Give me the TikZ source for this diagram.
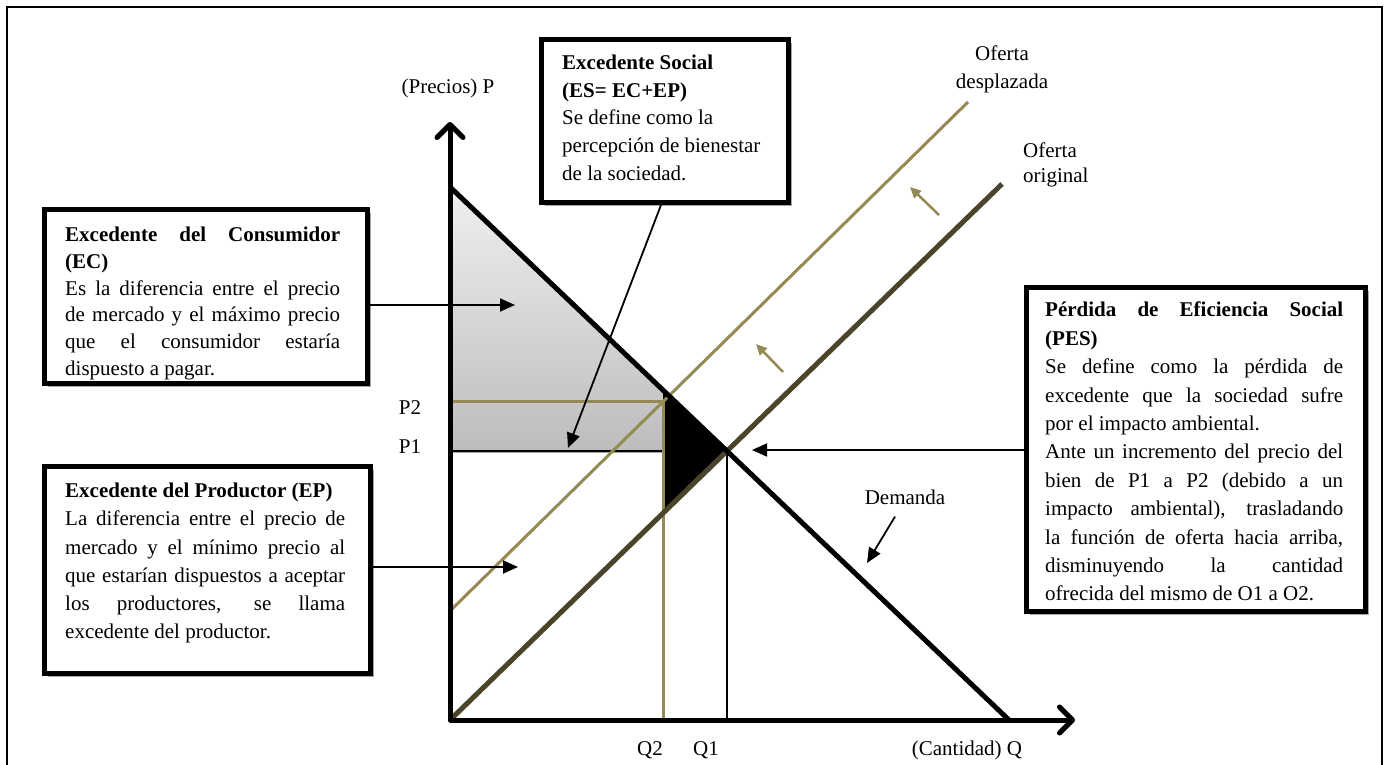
\documentclass[tikz,border=0pt]{standalone}
\usepackage{fontspec}
\setmainfont{Liberation Serif}
\usetikzlibrary{arrows.meta,intersections,shadows}
\setlength{\parindent}{0pt}
\tolerance=10000 \hbadness=10000 \hyphenpenalty=10000 \exhyphenpenalty=10000
\definecolor{olive}{HTML}{948A54}
\definecolor{darkolive}{HTML}{4A452A}

\begin{document}
\begin{tikzpicture}[x=1pt,y=-1pt,
  font=\fontsize{21}{28}\selectfont,
  panel/.style={draw=black, line width=5pt, fill=white, anchor=north west, inner sep=0pt,
    general shadow={shadow xshift=3.8pt, shadow yshift=-3.8pt, fill=black!35}},
  body/.style={anchor=north west, inner sep=0pt, text width=#1, align=justify},
  conn/.style={line width=1.8pt, -{Triangle[length=15pt,width=13pt]}},
  shiftarrow/.style={draw=olive, line width=2.5pt, -{Triangle[length=11pt,width=10pt]}},
  sh/.style={preaction={draw=black!35, transform canvas={shift={(1.5pt,-1.5pt)}}}},
  lbl/.style={inner sep=0pt}
]
\useasboundingbox (0,0) rectangle (1386,765);
% frame
\draw[line width=1.5pt] (7,7) rectangle (1382,800);

% key points of the diagram
\coordinate (O) at (450,720);
\coordinate (Ytip) at (450,122);
\coordinate (Xtip) at (1075,720);
\coordinate (Dtop) at (450,187);
\coordinate (Dbot) at (1009,720);
\coordinate (Sbot) at (450,720);
\coordinate (Stop) at (1002,184);
\coordinate (Tbot) at (451,610);
\coordinate (Ttop) at (968,102);
\coordinate (P2L) at (450,401);
\coordinate (Q2T) at (663,401);
\coordinate (Q2B) at (663,720);

\path[name path=dem] (Dtop) -- (Dbot);
\path[name path=sup] (Sbot) -- (Stop);
\path[name path=qtwo] (663,100) -- (663,730);
\path[name intersections={of=dem and sup, by=E}];
\path[name intersections={of=dem and qtwo, by=Dq}];
\path[name intersections={of=sup and qtwo, by=Sq}];

% consumer surplus area
\shade[top color=black!6, bottom color=black!26] (Dtop) -- (Dq) -- (Dq |- E) -- (Dtop |- E) -- cycle;
% welfare loss
\fill[black] (Dq) -- (E) -- (Sq) -- cycle;

% price and quantity guides
\draw[line width=2.5pt, sh] (Dtop |- E) -- (Dq |- E);
\draw[line width=1.5pt] (E) -- (E |- O);
\draw[olive, line width=3pt] (P2L) -- (Q2T) -- (Q2B);

% supply curves and demand
\draw[olive, line width=3pt] (Tbot) -- (Ttop);
\draw[darkolive, line width=5pt, sh] (Sbot) -- (Stop);
\draw[black, line width=5pt, sh] (Dtop) -- (Dbot);

% axes
\draw[line width=5pt, line join=round, sh,
  {Straight Barb[length=13pt,width=26pt,round]}-{Straight Barb[length=13pt,width=26pt,round]}]
  (Ytip) -- (O) -- (Xtip);

% shift of the supply curve
\coordinate (a1s) at (783,372); \coordinate (a1e) at (756,344);
\coordinate (a2s) at (939,215); \coordinate (a2e) at (910,187);
\draw[shiftarrow] (a1s) -- (a1e);
\draw[shiftarrow] (a2s) -- (a2e);

% axis and curve labels
\node[lbl] (pl) at (448,88) {(Precios) P};
\node[lbl, align=center] (od) at (1002,69) {Oferta\\desplazada};
\node[lbl, align=left, anchor=west, font=\fontsize{21}{25}\selectfont] (oo) at (1023,165) {Oferta\\original};
\node[lbl] (p2) at (410,408) {P2};
\node[lbl] (p1) at (410,447) {P1};
\node[lbl] (q2) at (650,750) {Q2};
\node[lbl] (q1) at (706,750) {Q1};
\node[lbl] (cq) at (967,750) {(Cantidad) Q};
\node[lbl] (dl) at (905,497) {Demanda};

% explanation panels
\node[panel, minimum width=323pt, minimum height=174pt] (ec) at (42,207) {};
\node[body=275pt, font=\fontsize{21}{26.7}\selectfont] (ectext) at (65,227)
  {\textbf{Excedente del Consumidor\linebreak (EC)}\par
   Es la diferencia entre el precio\linebreak de mercado y el máximo precio\linebreak
   que el consumidor estaría\linebreak dispuesto a pagar.};

\node[panel, minimum width=247pt, minimum height=163pt] (es) at (539,37) {};
\node[lbl, anchor=north west, align=left, font=\fontsize{21}{27.6}\selectfont] (estext) at (562,55)
  {\textbf{Excedente Social}\\\textbf{(ES= EC+EP)}\\Se define como la\\percepción de bienestar\\de la sociedad.};

\node[panel, minimum width=326pt, minimum height=207pt] (ep) at (42,464) {};
\node[body=280pt, font=\fontsize{21}{28.2}\selectfont] (eptext) at (65,483)
  {\textbf{Excedente del Productor (EP)}\par
   La diferencia entre el precio de\linebreak mercado y el mínimo precio al\linebreak
   que estarían dispuestos a aceptar\linebreak los productores, se llama\linebreak
   excedente del productor.};

\node[panel, minimum width=339pt, minimum height=324pt] (pes) at (1024,285) {};
\node[body=298pt, font=\fontsize{21}{28.4}\selectfont] (pestext) at (1045,302)
  {\textbf{Pérdida de Eficiencia Social\linebreak (PES)}\par
   Se define como la pérdida de\linebreak excedente que la sociedad sufre\linebreak
   por el impacto ambiental.\par
   Ante un incremento del precio del\linebreak bien de P1 a P2 (debido a un\linebreak
   impacto ambiental), trasladando\linebreak la función de oferta hacia arriba,\linebreak
   disminuyendo la cantidad\linebreak ofrecida del mismo de O1 a O2.};

% pointers from panels to areas
\coordinate (ecT) at (515,305);
\coordinate (esT) at (568,448);
\coordinate (epT) at (518,567);
\coordinate (pesT) at (752,450);
\coordinate (dT) at (867,563);
\draw[conn] (ec.east |- ecT) -- (ecT);
\draw[conn] ([xshift=-4pt]es.south) -- (esT);
\draw[conn] (ep.east |- epT) -- (epT);
\draw[conn] (pes.west |- pesT) -- (pesT);
\draw[conn] ([xshift=-10pt,yshift=-12pt]dl.south) -- (dT);
\end{tikzpicture}
\end{document}
